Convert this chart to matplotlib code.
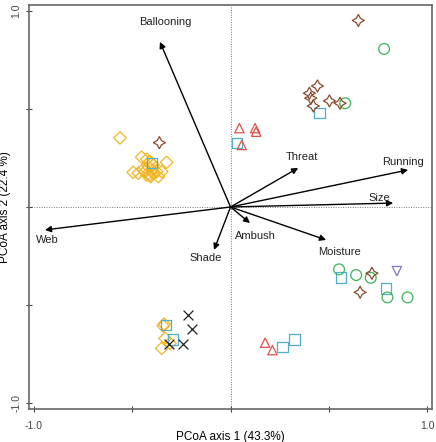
import matplotlib
matplotlib.use('Agg')
import matplotlib.pyplot as plt

plt.rcParams['font.family'] = ['Liberation Sans', 'DejaVu Sans']

# site scores, one group per guild / marker
diam_x = [-0.562, -0.452, -0.426, -0.410, -0.401, -0.393, -0.418, -0.444, -0.435, -0.495,
          -0.469, -0.401, -0.393, -0.410, -0.367, -0.376, -0.350, -0.325, -0.406, -0.426,
          -0.338, -0.342, -0.333, -0.350, -0.308]
diam_y = [0.352, 0.254, 0.243, 0.231, 0.223, 0.214, 0.206, 0.192, 0.180, 0.177,
          0.172, 0.189, 0.172, 0.163, 0.155, 0.180, 0.180, 0.228, 0.155, 0.163,
          -0.597, -0.607, -0.670, -0.721, -0.695]

sq_x = [-0.401, -0.328, -0.294, 0.032, 0.264, 0.325, 0.452, 0.561, 0.790]
sq_y = [0.223, -0.602, -0.675, 0.325, -0.713, -0.675, 0.478, -0.359, -0.415]

cross_x = [-0.215, -0.197, -0.311, -0.243]
cross_y = [-0.551, -0.624, -0.699, -0.699]

tri_x = [0.045, 0.125, 0.130, 0.057, 0.176, 0.213]
tri_y = [0.402, 0.402, 0.384, 0.316, -0.692, -0.730]

star_x = [-0.362, 0.650, 0.442, 0.401, 0.408, 0.421, 0.503, 0.557, 0.719, 0.659]
star_y = [0.328, 0.951, 0.617, 0.580, 0.555, 0.515, 0.541, 0.529, -0.338, -0.435]

circ_x = [0.781, 0.583, 0.552, 0.639, 0.713, 0.798, 0.900]
circ_y = [0.806, 0.529, -0.318, -0.347, -0.361, -0.461, -0.461]

dtri_x = [0.846]
dtri_y = [-0.327]

# trait vectors
traits = ['Ballooning', 'Web', 'Shade', 'Ambush', 'Moisture', 'Threat', 'Running', 'Size']
vec_x = [-0.359, -0.944, -0.084, 0.099, 0.486, 0.344, 0.903, 0.827]
vec_y = [0.842, -0.117, -0.219, -0.082, -0.168, 0.199, 0.189, 0.020]

# label offsets (points) relative to arrow tip
lab_off = [(4, 14), (2, -7), (-6, -6), (4, -9), (10, -9), (3, 8), (-4, 6), (-10, 4)]

fig = plt.figure(figsize=(4.36, 4.42), dpi=100)
ax = fig.add_axes([0.0665, 0.0747, 0.9245, 0.914])

ax.axhline(0, color='#777777', lw=0.7, ls=(0, (1, 1.5)), zorder=0)
ax.axvline(0, color='#777777', lw=0.7, ls=(0, (1, 1.5)), zorder=0)

mk = dict(facecolors='none', linewidths=0.9, zorder=2)
ax.scatter(diam_x, diam_y, marker='D', s=40, edgecolors='#F4B524', **mk)
ax.scatter(sq_x, sq_y, marker='s', s=55, edgecolors='#4FAFCB', **mk)
ax.scatter(tri_x, tri_y, marker='^', s=45, edgecolors='#E0504A', **mk)
ax.scatter(circ_x, circ_y, marker='o', s=60, edgecolors='#3DB457', **mk)
ax.scatter(dtri_x, dtri_y, marker='v', s=45, edgecolors='#7F78C4', **mk)
ax.scatter(star_x, star_y, marker=(4, 1, 0), s=75, edgecolors='#8A4A2C', **mk)
ax.scatter(cross_x, cross_y, marker='x', s=50, color='#222222', linewidths=0.9, zorder=2)

for name, vx, vy, off in zip(traits, vec_x, vec_y, lab_off):
    ax.annotate('', xy=(vx, vy), xytext=(0, 0),
                arrowprops=dict(arrowstyle='-|>', color='black', lw=1.0,
                                mutation_scale=9, shrinkA=0, shrinkB=0))
    ax.annotate(name, xy=(vx, vy), xytext=off, textcoords='offset points',
                ha='center', va='center', fontsize=8, color='#222222')

ax.set_xlim(-1.025, 1.025)
ax.set_ylim(-1.03, 1.03)
ax.set_xticks([-1.0, -0.5, 0, 0.5, 1.0])
ax.set_xticklabels(['-1.0', '', '', '', '1.0'])
ax.set_yticks([-1.0, -0.5, 0, 0.5, 1.0])
ax.set_yticklabels(['-1.0', '', '', '', '1.0'], rotation=90, va='center')
ax.tick_params(direction='inout', length=5, width=0.8, color='#444444',
               labelsize=7.5, labelcolor='#444444')
ax.tick_params(axis='x', pad=6)
ax.tick_params(axis='y', pad=3)
for s in ax.spines.values():
    s.set_color('#666666')
    s.set_linewidth(1.2)

ax.set_xlabel('PCoA axis 1 (43.3%)', fontsize=8.5, labelpad=0)
ax.set_ylabel('PCoA axis 2 (22.4 %)', fontsize=8.5, labelpad=0)

fig.savefig('out.png', dpi=100)
